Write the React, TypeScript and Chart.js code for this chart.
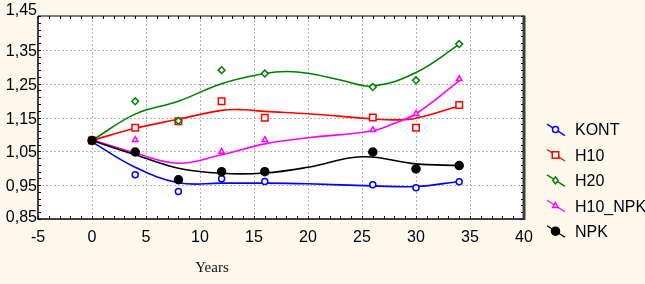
import React, { useEffect, useRef } from 'react';
import { Chart, registerables } from 'chart.js';

Chart.register(...registerables);

// ---- data ----
const years = [0, 4, 8, 12, 16, 26, 30, 34];
const kontValues = [1.082, 0.981, 0.931, 0.969, 0.961, 0.951, 0.942, 0.96];
const h10Values = [1.082, 1.12, 1.139, 1.198, 1.149, 1.15, 1.12, 1.187];
const h20Values = [1.082, 1.198, 1.14, 1.29, 1.28, 1.24, 1.26, 1.367];
const h10npkValues = [1.082, 1.084, 0.965, 1.049, 1.084, 1.113, 1.161, 1.264];
const npkValues = [1.082, 1.048, 0.966, 0.99, 0.99, 1.048, 0.998, 1.008];

// fitted smooth curves
const kontFitX = [0, 4, 8, 12, 16, 20, 26, 30, 34];
const kontFitY = [1.078, 1.003, 0.957, 0.956, 0.956, 0.954, 0.948, 0.946, 0.961];
const h10FitX = [0, 4, 8, 12, 14, 16, 20, 26, 28, 30, 34];
const h10FitY = [1.082, 1.118, 1.145, 1.171, 1.173, 1.168, 1.161, 1.146, 1.143, 1.148, 1.184];
const h20FitX = [0, 4, 8, 12, 16, 18, 20, 23, 26, 30, 34];
const h20FitY = [1.082, 1.16, 1.198, 1.25, 1.28, 1.286, 1.281, 1.261, 1.243, 1.283, 1.366];
const h10npkFitX = [0, 4, 8, 12, 16, 20, 26, 28, 30, 34];
const h10npkFitY = [1.084, 1.045, 1.015, 1.04, 1.072, 1.09, 1.111, 1.133, 1.161, 1.258];
const npkFitX = [0, 4, 8, 12, 16, 20, 25, 30, 34];
const npkFitY = [1.082, 1.04, 1.0, 0.985, 0.986, 1.003, 1.034, 1.013, 1.008];

const seriesLabels = ['KONT', 'H10', 'H20', 'H10_NPK', 'NPK'];

const xTickValues = [-5, 0, 5, 10, 15, 20, 25, 30, 35, 40];
const yTickValues = [0.85, 0.95, 1.05, 1.15, 1.25, 1.35, 1.45];
const yTickLabels = ['0,85', '0,95', '1,05', '1,15', '1,25', '1,35', '1,45'];
const xAxisTitle = 'Years';

// ---- styles ----
const BG = '#fcf8ec';
const colors = ['#0000ff', '#ff0000', '#008000', '#ff00ff', '#000000'];
const styles = ['circle', 'rect', 'rectRot', 'triangle', 'circle'];
const radii = [3, 4.6, 3.4, 3.2, 4];
const fills = ['#ffffff', '#ffffff', '#ffffff', '#ffffff', '#000000'];
const SANS = "'Liberation Sans', Arial, sans-serif";
const SERIF = "'Liberation Serif', 'Times New Roman', serif";

const pts = (xs: number[], ys: number[]) => xs.map((x, i) => ({ x, y: ys[i] }));

function drawMarker(ctx: CanvasRenderingContext2D, i: number, x: number, y: number) {
  const r = radii[i];
  ctx.save();
  ctx.strokeStyle = colors[i];
  ctx.fillStyle = fills[i];
  ctx.lineWidth = 1.5;
  ctx.beginPath();
  const s = styles[i];
  if (s === 'circle') {
    ctx.arc(x, y, r, 0, Math.PI * 2);
  } else if (s === 'rect') {
    const h = r * Math.SQRT1_2;
    ctx.rect(x - h, y - h, 2 * h, 2 * h);
  } else if (s === 'rectRot') {
    ctx.moveTo(x, y - r);
    ctx.lineTo(x + r * 0.8, y);
    ctx.lineTo(x, y + r);
    ctx.lineTo(x - r * 0.8, y);
    ctx.closePath();
  } else {
    ctx.moveTo(x, y - r);
    ctx.lineTo(x + r * 0.87, y + r * 0.5);
    ctx.lineTo(x - r * 0.87, y + r * 0.5);
    ctx.closePath();
  }
  ctx.fill();
  ctx.stroke();
  ctx.restore();
}

const decoPlugin = {
  id: 'deco',
  beforeDraw(chart: any) {
    const { ctx, chartArea: a, width, height } = chart;
    const xs = chart.scales.x;
    const ys = chart.scales.y;
    ctx.save();
    ctx.fillStyle = BG;
    ctx.fillRect(0, 0, width, height);
    ctx.fillStyle = '#ffffff';
    ctx.fillRect(a.left, a.top, a.right - a.left, a.bottom - a.top);
    ctx.strokeStyle = '#b4b4b4';
    ctx.lineWidth = 1;
    ctx.setLineDash([2, 2]);
    xTickValues.forEach((v) => {
      if (v <= xs.min || v >= xs.max) return;
      const px = Math.round(xs.getPixelForValue(v)) + 0.5;
      ctx.beginPath();
      ctx.moveTo(px, a.top);
      ctx.lineTo(px, a.bottom);
      ctx.stroke();
    });
    yTickValues.forEach((v) => {
      if (v <= ys.min + 1e-9 || v >= ys.max - 1e-9) return;
      const py = Math.round(ys.getPixelForValue(v)) + 0.5;
      ctx.beginPath();
      ctx.moveTo(a.left, py);
      ctx.lineTo(a.right, py);
      ctx.stroke();
    });
    ctx.restore();
  },
  afterDraw(chart: any) {
    const { ctx, chartArea: a } = chart;
    const xs = chart.scales.x;
    const ys = chart.scales.y;
    ctx.save();
    // minor ticks
    ctx.strokeStyle = '#000';
    ctx.lineWidth = 1;
    for (let v = xs.min; v <= xs.max + 1e-9; v += 1) {
      const px = Math.round(xs.getPixelForValue(v)) + 0.5;
      ctx.beginPath();
      ctx.moveTo(px, a.bottom);
      ctx.lineTo(px, a.bottom - 3);
      ctx.moveTo(px, a.top);
      ctx.lineTo(px, a.top + 3);
      ctx.stroke();
    }
    for (let k = 0; k <= 30; k++) {
      const v = ys.min + k * 0.02;
      const py = Math.round(ys.getPixelForValue(v)) + 0.5;
      ctx.beginPath();
      ctx.moveTo(a.left, py);
      ctx.lineTo(a.left + 3, py);
      ctx.moveTo(a.right, py);
      ctx.lineTo(a.right - 3, py);
      ctx.stroke();
    }
    // frame
    ctx.strokeStyle = '#000';
    ctx.lineWidth = 1.5;
    ctx.beginPath();
    ctx.moveTo(a.left, a.top);
    ctx.lineTo(a.left, a.bottom);
    ctx.lineTo(a.right, a.bottom);
    ctx.stroke();
    ctx.lineWidth = 1.2;
    ctx.beginPath();
    ctx.moveTo(a.left, a.top);
    ctx.lineTo(a.right, a.top);
    ctx.stroke();
    ctx.strokeStyle = '#3c3c3c';
    ctx.lineWidth = 3;
    ctx.beginPath();
    ctx.moveTo(a.right, a.top - 0.5);
    ctx.lineTo(a.right, a.bottom + 1);
    ctx.stroke();

    // tick labels
    ctx.fillStyle = '#000';
    ctx.font = `16px ${SANS}`;
    ctx.textAlign = 'right';
    ctx.textBaseline = 'alphabetic';
    yTickValues.forEach((v, i) => {
      let py = ys.getPixelForValue(v);
      if (i === yTickValues.length - 1) py -= 7;
      if (i === 0) py -= 3;
      ctx.fillText(yTickLabels[i], a.left - 1, py + 6);
    });
    ctx.textAlign = 'center';
    xTickValues.forEach((v) => {
      const px = xs.getPixelForValue(v);
      ctx.fillText(String(v), px, 242);
    });

    // axis title
    ctx.font = `15px ${SERIF}`;
    ctx.fillStyle = '#111';
    ctx.fillText(xAxisTitle, 212, 272);

    // legend
    ctx.font = `16px ${SANS}`;
    ctx.textAlign = 'left';
    seriesLabels.forEach((label, i) => {
      const cy = 129.6 + 25.4 * i;
      ctx.strokeStyle = colors[i];
      ctx.lineWidth = 1.3;
      ctx.beginPath();
      ctx.moveTo(547, cy - 5.5);
      ctx.lineTo(565, cy + 6);
      ctx.stroke();
      drawMarker(ctx, i, 555.5, cy);
      ctx.fillStyle = '#000';
      ctx.fillText(label, 575, cy + 5.8);
    });
    ctx.restore();
  },
};

export default function App() {
  const ref = useRef<HTMLCanvasElement | null>(null);

  useEffect(() => {
    document.body.style.margin = '0';
    const canvas = ref.current;
    if (!canvas) return;

    const fits = [
      pts(kontFitX, kontFitY),
      pts(h10FitX, h10FitY),
      pts(h20FitX, h20FitY),
      pts(h10npkFitX, h10npkFitY),
      pts(npkFitX, npkFitY),
    ];
    const values = [kontValues, h10Values, h20Values, h10npkValues, npkValues];

    const curveSets = fits.map((d, i) => ({
      label: seriesLabels[i] + ' fit',
      data: d,
      borderColor: colors[i],
      borderWidth: 1.6,
      pointRadius: 0,
      tension: 0.4,
      fill: false,
      order: 20 - i,
    }));
    const pointSets = values.map((v, i) => ({
      label: seriesLabels[i],
      data: pts(years, v),
      showLine: false,
      borderColor: colors[i],
      backgroundColor: fills[i],
      pointBackgroundColor: fills[i],
      pointBorderColor: colors[i],
      pointBorderWidth: 1.5,
      pointStyle: styles[i],
      pointRadius: radii[i],
      order: 10 - i,
    }));

    const chart = new Chart(canvas, {
      type: 'line',
      data: { datasets: [...curveSets, ...pointSets] as any },
      options: {
        animation: false,
        responsive: false,
        devicePixelRatio: 1,
        layout: { padding: { left: 38, right: 121, top: 16, bottom: 65 } },
        plugins: { legend: { display: false }, tooltip: { enabled: false } },
        scales: {
          x: {
            type: 'linear',
            min: -5,
            max: 40,
            ticks: { display: false },
            grid: { display: false, drawTicks: false },
            border: { display: false },
            afterFit: (s: any) => { s.height = 0; },
          },
          y: {
            type: 'linear',
            min: 0.85,
            max: 1.45,
            ticks: { display: false },
            grid: { display: false, drawTicks: false },
            border: { display: false },
            afterFit: (s: any) => { s.width = 0; },
          },
        },
      } as any,
      plugins: [decoPlugin],
    });
    return () => chart.destroy();
  }, []);

  return (
    <div style={{ width: 645, height: 284, overflow: 'hidden', background: BG }}>
      <canvas ref={ref} width={645} height={284} style={{ display: 'block', width: 645, height: 284 }} />
    </div>
  );
}
